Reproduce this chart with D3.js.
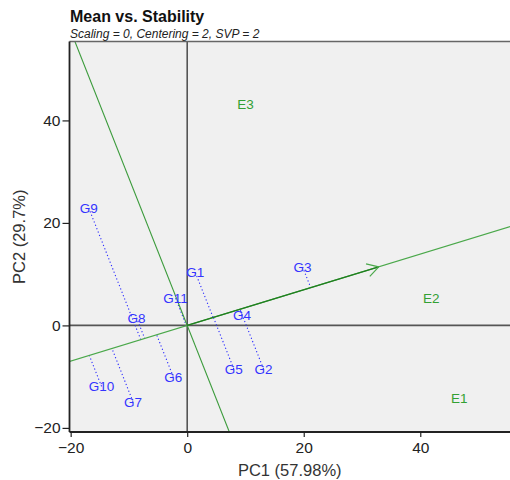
<!DOCTYPE html>
<html><head><meta charset="utf-8">
<script src="https://cdn.jsdelivr.net/npm/d3@7"></script>
<style>body{margin:0;background:#fff}svg{display:block}</style>
</head><body>
<script>
// ---- data ----
const genotypes = ["G1","G2","G3","G4","G5","G6","G7","G8","G9","G10","G11"];
const genoPC1   = [1.4, 13.1, 19.8, 9.4, 8.0, -2.4, -9.3, -8.7, -16.9, -14.7, -2.0];
const genoPC2   = [10.3, -8.5, 11.4, 2.1, -8.5, -10.0, -14.9, 1.5, 22.9, -11.9, 5.3];
const environments = ["E1","E2","E3"];
const envPC1 = [46.7, 41.9, 10.0];
const envPC2 = [-14.2, 5.3, 43.2];
const xTicks = [-20, 0, 20, 40];
const yTicks = [-20, 0, 20, 40];
const titleText = "Mean vs. Stability";
const subtitleText = "Scaling = 0, Centering = 2, SVP = 2";
const xLabel = "PC1 (57.98%)";
const yLabel = "PC2 (29.7%)";

const W = 510, H = 480;
const L = 69.5, R = 510, T = 41.5, B = 432;
const x = d3.scaleLinear().domain([-20.2, 55.4]).range([L, R]);
const y = d3.scaleLinear().domain([-20.8, 55.4]).range([B, T]);

const svg = d3.select("body").append("svg").attr("width", W).attr("height", H)
  .style("font-family", "'Liberation Sans', Arial, sans-serif");

svg.append("defs").append("clipPath").attr("id","clip")
  .append("rect").attr("x",L).attr("y",T).attr("width",R-L).attr("height",B-T);

svg.append("rect").attr("x",L).attr("y",T).attr("width",R-L).attr("height",B-T).attr("fill","#f0f0f0");

const g = svg.append("g").attr("clip-path","url(#clip)");

// zero reference lines
g.append("line").attr("x1",x(0)).attr("x2",x(0)).attr("y1",T).attr("y2",B).attr("stroke","#555").attr("stroke-width",1.6);
g.append("line").attr("x1",L).attr("x2",R).attr("y1",y(0)).attr("y2",y(0)).attr("stroke","#555").attr("stroke-width",1.6);

// average environment coordinate
const mx = d3.mean(envPC1), my = d3.mean(envPC2);
const len = Math.hypot(mx, my);
const ux = mx/len, uy = my/len;

// dotted projections
genotypes.forEach((n,i)=>{
  const d = genoPC1[i]*ux + genoPC2[i]*uy;
  g.append("line")
    .attr("x1",x(genoPC1[i])).attr("y1",y(genoPC2[i]))
    .attr("x2",x(d*ux)).attr("y2",y(d*uy))
    .attr("stroke","#2a2aff").attr("stroke-width",1.1).attr("stroke-dasharray","1.2,2.4");
});

// AEC abscissa (through origin) and ordinate
const big = 200;
g.append("line").attr("x1",x(-big*ux)).attr("y1",y(-big*uy)).attr("x2",x(big*ux)).attr("y2",y(big*uy))
  .attr("stroke","#4aa84a").attr("stroke-width",1.1);
g.append("line").attr("x1",x(big*uy)).attr("y1",y(-big*ux)).attr("x2",x(-big*uy)).attr("y2",y(big*ux))
  .attr("stroke","#3a9a3a").attr("stroke-width",1.1);
// arrow segment
const ax = x(mx), ay = y(my);
g.append("line").attr("x1",x(0)).attr("y1",y(0)).attr("x2",ax).attr("y2",ay)
  .attr("stroke","#1f7f1f").attr("stroke-width",1.3);
const ang = Math.atan2(ay - y(0), ax - x(0));
const hl = 13, ha = Math.PI/6;
[ang+Math.PI-ha, ang+Math.PI+ha].forEach(a=>{
  g.append("line").attr("x1",ax).attr("y1",ay)
    .attr("x2",ax+hl*Math.cos(a)).attr("y2",ay+hl*Math.sin(a))
    .attr("stroke","#4aa84a").attr("stroke-width",1.2);
});

// labels
genotypes.forEach((n,i)=>{
  g.append("text").attr("x",x(genoPC1[i])).attr("y",y(genoPC2[i])).attr("dy","0.36em")
    .attr("text-anchor","middle").attr("font-size",13.5).attr("fill","#3434ff").text(n);
});
environments.forEach((n,i)=>{
  g.append("text").attr("x",x(envPC1[i])).attr("y",y(envPC2[i])).attr("dy","0.36em")
    .attr("text-anchor","middle").attr("font-size",13.5).attr("fill","#33a033").text(n);
});

// frame
svg.append("line").attr("x1",L).attr("x2",R).attr("y1",T).attr("y2",T).attr("stroke","#666").attr("stroke-width",1.6);

// axes
const xAxis = svg.append("g").attr("transform",`translate(0,${B})`)
  .call(d3.axisBottom(x).tickValues(xTicks).tickSize(5).tickSizeOuter(0).tickPadding(5).tickFormat(d3.format("d")));
xAxis.select(".domain").attr("stroke","#222").attr("stroke-width",1.8).attr("d",`M${L},0H${R}`);
xAxis.selectAll(".tick line").attr("stroke","#222").attr("stroke-width",1.2);
xAxis.selectAll("text").attr("font-size",15.5).attr("fill","#222").attr("font-family","'Liberation Sans', Arial, sans-serif");

const yAxis = svg.append("g").attr("transform",`translate(${L},0)`)
  .call(d3.axisLeft(y).tickValues(yTicks).tickSize(7).tickSizeOuter(0).tickPadding(2).tickFormat(d3.format("d")));
yAxis.select(".domain").attr("stroke","#222").attr("stroke-width",1.8).attr("d",`M0,${T}V${B}`);
yAxis.selectAll(".tick line").attr("stroke","#222").attr("stroke-width",1.2);
yAxis.selectAll("text").attr("font-size",15.5).attr("fill","#222").attr("font-family","'Liberation Sans', Arial, sans-serif");

// titles
svg.append("text").attr("x",70).attr("y",22).attr("font-size",16).attr("font-weight","bold").attr("fill","#111").text(titleText);
svg.append("text").attr("x",70).attr("y",37.5).attr("font-size",12).attr("font-style","italic").attr("fill","#222").text(subtitleText);
svg.append("text").attr("x",(L+R)/2).attr("y",476).attr("text-anchor","middle").attr("font-size",16.5).attr("fill","#333").text(xLabel);
svg.append("text").attr("transform",`translate(25,${(T+B)/2}) rotate(-90)`).attr("text-anchor","middle").attr("font-size",16.5).attr("fill","#333").text(yLabel);
</script>
</body></html>
